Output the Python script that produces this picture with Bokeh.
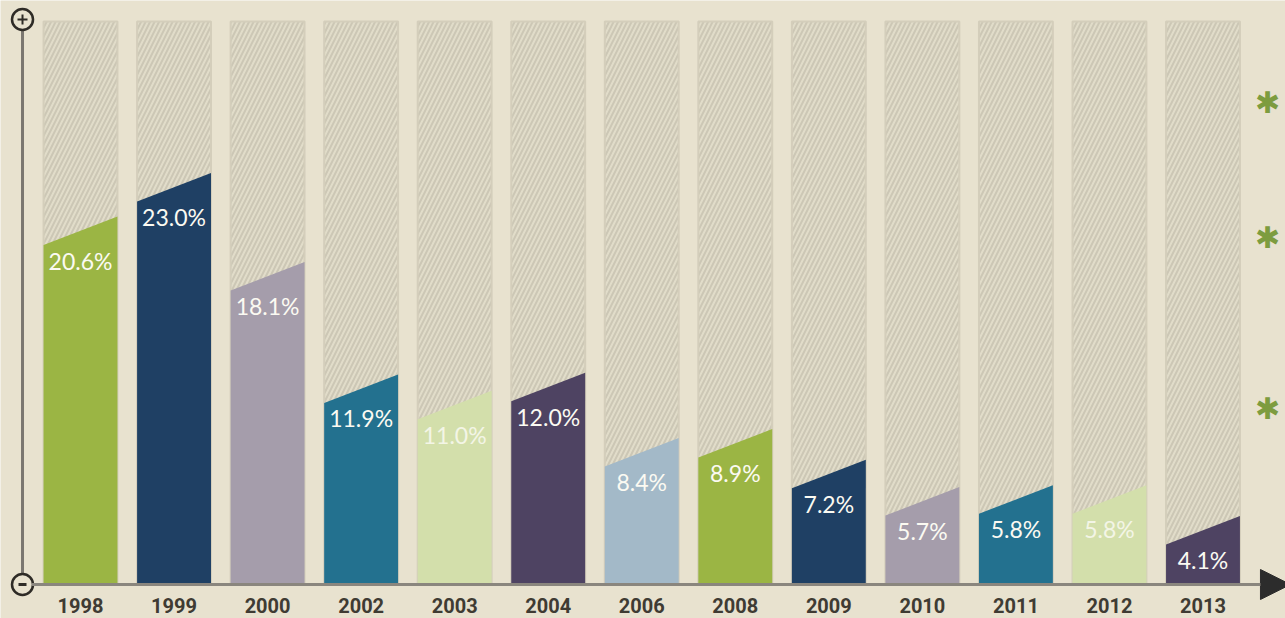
from bokeh.plotting import figure
from bokeh.models import Range1d, Arrow, NormalHead, ColumnDataSource
from bokeh.core.properties import value
from bokeh.embed import file_html
from bokeh.resources import INLINE

# ---- data ----
years = ["1998", "1999", "2000", "2002", "2003", "2004", "2006",
         "2008", "2009", "2010", "2011", "2012", "2013"]
rates = [20.6, 23.0, 18.1, 11.9, 11.0, 12.0, 8.4, 8.9, 7.2, 5.7, 5.8, 5.8, 4.1]
colors = ["#9bb544", "#1f4064", "#a59dab", "#23718f", "#d3dfab", "#4e4362",
          "#a3b9c8", "#9bb544", "#1f4064", "#a59dab", "#23718f", "#d3dfab",
          "#4e4362"]
label_colors = ["#fbfaf2", "#fbfaf2", "#fbfaf2", "#fbfaf2", "#f3f5e6", "#fbfaf2",
                "#fbfaf2", "#fbfaf2", "#fbfaf2", "#fbfaf2", "#fbfaf2", "#f3f5e6",
                "#fbfaf2"]

# ---- style constants ----
BG = "#e8e2cf"
BASE = 0.33          # baseline (x-axis level) in data units
SLANT = 1.57         # drop of the bar top at its left edge
BAR_W = 0.79
HATCH_TOP = 31.35
AXIS_X = -0.62
PLUS_Y = 31.46

xs_idx = list(range(len(years)))
bar_xs = [[i - BAR_W / 2, i + BAR_W / 2, i + BAR_W / 2, i - BAR_W / 2] for i in xs_idx]
bar_ys = [[BASE, BASE, v, v - SLANT] for v in rates]

bars = ColumnDataSource(dict(xs=bar_xs, ys=bar_ys, color=colors))
labels = ColumnDataSource(dict(x=xs_idx, y=[v - 2.42 for v in rates],
                               text=[f"{v:.1f}%" for v in rates], color=label_colors))
ticks = ColumnDataSource(dict(x=xs_idx, y=[-0.80] * len(years), text=years))

p = figure(width=1285, height=618, output_backend="svg", toolbar_location=None,
           x_range=Range1d(-0.8553, 12.882), y_range=Range1d(-1.543, 32.507),
           min_border=0, background_fill_color=BG, border_fill_color=BG)
p.outline_line_color = None
p.grid.visible = False
p.axis.visible = False

# hatched background columns
p.quad(left=[i - BAR_W / 2 for i in xs_idx], right=[i + BAR_W / 2 for i in xs_idx],
       bottom=BASE, top=HATCH_TOP, fill_color="#e1dcc9", line_color="#d4cebb",
       line_width=2, hatch_pattern="/", hatch_color="#ccc7b5", hatch_weight=2,
       hatch_scale=9)

# slanted bars
p.patches("xs", "ys", source=bars, fill_color="color", line_color=None)

# value labels
p.text("x", "y", text="text", source=labels, text_color="color",
       text_font=value("Lato"), text_font_size="23px",
       text_align="center", text_baseline="middle")

# year labels
p.text("x", "y", text="text", source=ticks, text_color="#3f3b33",
       text_font=value("Roboto"), text_font_style="bold",
       text_font_size="20px", text_align="center", text_baseline="middle")

# axes
p.segment(x0=[AXIS_X], y0=[BASE], x1=[AXIS_X], y1=[PLUS_Y], line_color="#7b7770",
          line_width=3)
p.add_layout(Arrow(x_start=AXIS_X + 0.1, y_start=BASE, x_end=12.935, y_end=BASE,
                   line_color="#8a867e", line_width=3,
                   end=NormalHead(size=30, fill_color="#2c2c2c", line_color="#2c2c2c")))
p.scatter(x=[AXIS_X, AXIS_X], y=[PLUS_Y, BASE], size=21, marker="circle",
          fill_color=BG, line_color="#2e2b26", line_width=2.5)
p.scatter(x=[AXIS_X], y=[PLUS_Y], size=10, marker="cross", line_color="#2e2b26",
          line_width=2)
p.scatter(x=[AXIS_X], y=[BASE], size=8, marker="dash", line_color="#2e2b26",
          line_width=3)

# decorative asterisks on the right edge
p.text(x=[12.69] * 3, y=[26.89, 19.45, 10.03], text=["✱"] * 3,
       text_color="#7d9c3f", text_font=value("DejaVu Sans"), text_font_size="30px",
       text_align="center", text_baseline="middle")

open("out.html", "w").write(file_html(p, INLINE))
